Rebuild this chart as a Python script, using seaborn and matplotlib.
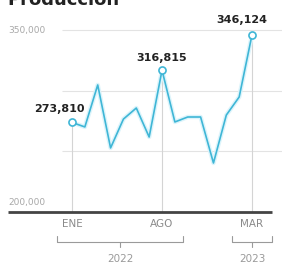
import numpy as np
import pandas as pd
import matplotlib
matplotlib.use("Agg")
import matplotlib.pyplot as plt
import matplotlib.patheffects as pe
import seaborn as sns

# Producción mensual (ene 2022 - mar 2023)
meses = ["ENE", "FEB", "MAR", "ABR", "MAY", "JUN", "JUL", "AGO",
         "SEP", "OCT", "NOV", "DIC", "ENE", "FEB", "MAR"]
anios = [2022] * 12 + [2023] * 3
produccion = [273810, 270100, 304700, 252800, 276600, 285700, 261800, 316815,
              274200, 278300, 278300, 240400, 279900, 294800, 346124]
destacados = [0, 7, 14]
grid_y = [250000, 300000, 350000]
etiquetas_y = [200000, 350000]

df = pd.DataFrame({"mes": meses, "anio": anios, "produccion": produccion})
df["idx"] = range(len(df))

sns.set_style("white")
plt.rcParams["font.family"] = ["DejaVu Sans"]

W, H = 282, 263
fig = plt.figure(figsize=(W / 100, H / 100), dpi=100)
ax = fig.add_axes([0, 0, 1, 1])
ax.axis("off")

# escala: índice 0 en x=72px, 12.86px por mes; 200k en y=212px, 350k en y=30px
dx = 12.86
k = 150000 / 182
ax.set_xlim(-72 / dx, (W - 72) / dx)
ax.set_ylim(200000 - (H - 212) * k, 350000 + 30 * k)

def py(p):
    return 200000 + (212 - p) * k

def px(p):
    return (p - 72) / dx

gris_linea = "#e3e3e3"
gris_texto = "#a8a8a8"
azul = "#3fb6d6"

# cuadrícula
ax.hlines(grid_y, px(62), px(W), color=gris_linea, lw=0.8, zorder=1)
for v in etiquetas_y:
    ax.text(px(8), v if v != 200000 else py(203), f"{v:,}",
            fontsize=6.5, color=gris_texto, ha="left", va="center")

# líneas verticales en meses destacados
for i in destacados:
    ax.vlines(i, 200000, produccion[i], color="#d4d4d4", lw=0.8, zorder=1)

# eje base
ax.hlines(200000, px(8), px(272), color="#444444", lw=2.0, zorder=3)

sns.lineplot(data=df, x="idx", y="produccion", ax=ax, color=azul, lw=1.2,
             zorder=4, legend=False,
             path_effects=[pe.Stroke(linewidth=3.2, foreground="#dcf4fb"), pe.Normal()])

sub = df.iloc[destacados]
sns.scatterplot(data=sub, x="idx", y="produccion", ax=ax, s=26, color="white",
                edgecolor=azul, linewidth=1.2, zorder=5, legend=False)

offsets = {0: (-9.4, 6.0), 7: (0, 5.4), 14: (-7.2, 6.8)}
for i in destacados:
    ax.annotate(f"{produccion[i]:,}", (i, produccion[i]), xytext=offsets[i],
                textcoords="offset points", ha="center", va="bottom",
                fontsize=8, fontweight="bold", color="#222222", zorder=6)

# etiquetas de mes
for i in destacados:
    ax.text(i, py(224), meses[i], fontsize=7.5, color="#8a8a8a",
            ha="center", va="center")

# corchetes de año
corchetes = {2022: (px(57), px(183)), 2023: (px(232), px(272))}
yb = py(242)
yt = py(236)
for anio, (a, b) in corchetes.items():
    ax.plot([a, a, b, b], [yt, yb, yb, yt], color="#9a9a9a", lw=0.8)
    c = (a + b) / 2
    ax.plot([c, c], [yb, py(247)], color="#9a9a9a", lw=0.8)
    ax.text(c, py(254), str(anio), fontsize=7.5, color="#9a9a9a",
            ha="center", va="top")

# título (recortado arriba, como en el original)
fig.text(7 / W, 1 - 5 / H, "Producción", fontsize=13, fontweight="bold",
         color="#222222", ha="left", va="baseline")

fig.savefig("out.png", dpi=100)
